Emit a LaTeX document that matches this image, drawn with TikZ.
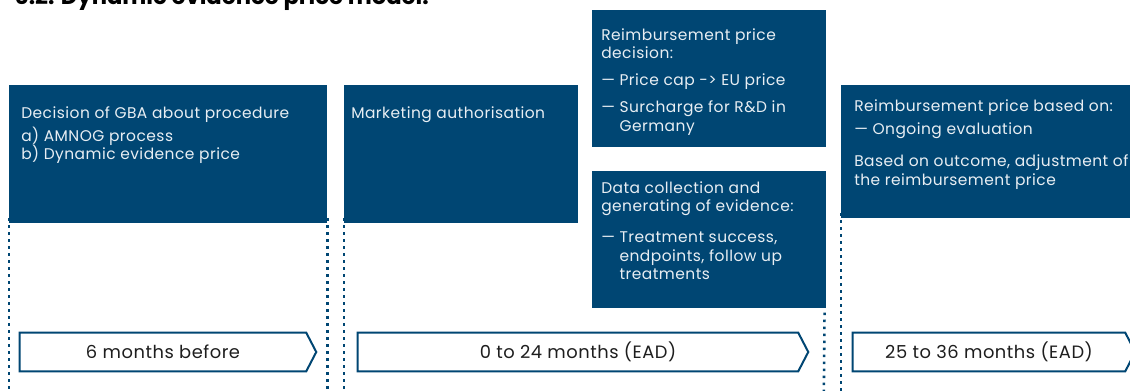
\documentclass[tikz,border=0pt]{standalone}
\usepackage{fontspec}
\setmainfont{Poppins}
\newfontfamily\bodyfont[LetterSpace=3]{Poppins}
\usetikzlibrary{calc}
\definecolor{navy}{RGB}{0,70,115}
\definecolor{inktext}{RGB}{30,30,30}
\definecolor{boxtext}{RGB}{232,238,243}
% em-dash bullet used inside the boxes
\newcommand\lead{—\ }
\tikzset{
  box/.style={fill=navy, draw=none, inner sep=0pt, anchor=north west},
  boxtxt/.style={text=boxtext, anchor=north west, inner sep=0pt, align=left,
    font=\bodyfont\fontsize{11.6pt}{13.9pt}\selectfont},
  period/.style={inner sep=0pt, minimum height=28.5pt, text=inktext,
    font=\bodyfont\fontsize{13.4pt}{15pt}\selectfont},
  periodline/.style={draw=navy, line width=1.5pt, line join=miter},
  dotline/.style={navy, line width=1.9pt, dash pattern=on 1.9pt off 3.35pt},
  heading/.style={inner sep=0pt, anchor=base east, font=\fontsize{17pt}{20pt}\selectfont\bfseries}
}
\begin{document}
\begin{tikzpicture}[x=0.75pt,y=-0.75pt]
\clip (0,0) rectangle (1130,391);
\fill[white] (0,0) rectangle (1130,391);
\coordinate (floor) at (0,391);

% heading
\node[heading] (title) at (429,5) {6.2. Dynamic evidence price model.};

% phase boxes
\node[box, minimum width=238.5pt, minimum height=103.5pt] (b1) at (9,85) {};
\node[box, minimum width=175.5pt, minimum height=103.5pt] (b2) at (344,85) {};
\node[box, minimum width=175.5pt, minimum height=102.75pt] (b3) at (592,10) {};
\node[box, minimum width=175.5pt, minimum height=102.75pt] (b4) at (592,171) {};
\node[box, minimum width=220.5pt, minimum height=99.75pt] (b5) at (841,85) {};

% box texts
\node[boxtxt] (t1) at ([shift={(12,21)}]b1.north west)
  {Decision of GBA about procedure\\[3.5pt]
   a) AMNOG process\\
   b) Dynamic evidence price};
\node[boxtxt] (t2) at ([shift={(7,21)}]b2.north west)
  {Marketing authorisation};
\node[boxtxt] (t3) at ([shift={(9,18)}]b3.north west)
  {Reimbursement price\\
   decision:\\[6.5pt]
   \lead Price cap -> EU price\\[6.5pt]
   \lead Surcharge for R\&D in\\
   \hphantom{\lead}Germany};
\node[boxtxt] (t4) at ([shift={(9,10)}]b4.north west)
  {Data collection and\\
   generating of evidence:\\[9.5pt]
   \lead Treatment success,\\
   \hphantom{\lead}endpoints, follow up\\
   \hphantom{\lead}treatments};
\node[boxtxt] (t5) at ([shift={(13,14)}]b5.north west)
  {Reimbursement price based on:\\[4pt]
   \lead Ongoing evaluation\\[10pt]
   Based on outcome, adjustment of\\
   the reimbursement price};

% dotted phase boundaries
\draw[dotline] ([yshift=4]b1.south west) -- (b1.south west |- floor);
\draw[dotline] ([yshift=4]b1.south east) -- (b1.south east |- floor);
\draw[dotline] ([yshift=4]b2.south west) -- (b2.south west |- floor);
\draw[dotline] ([shift={(-2,4)}]b4.south east) -- ([xshift=-2]b4.south east |- floor);
\draw[dotline] ([yshift=4]b5.south west) -- (b5.south west |- floor);

% timeline arrows
\node[period, minimum width=214.5pt] (p1) at (163,352) {6 months before};
\node[period, minimum width=330pt] (p2) at (578,352) {0 to 24 months (EAD)};
\node[period, minimum width=204pt] (p3) at (989,352) {25 to 36 months (EAD)};
\foreach \p in {p1,p2,p3}{
  \draw[periodline] (\p.north west) -- (\p.north east) -- ($(\p.east)+(10,0)$)
    -- (\p.south east) -- (\p.south west) -- cycle;
}
\end{tikzpicture}
\end{document}
